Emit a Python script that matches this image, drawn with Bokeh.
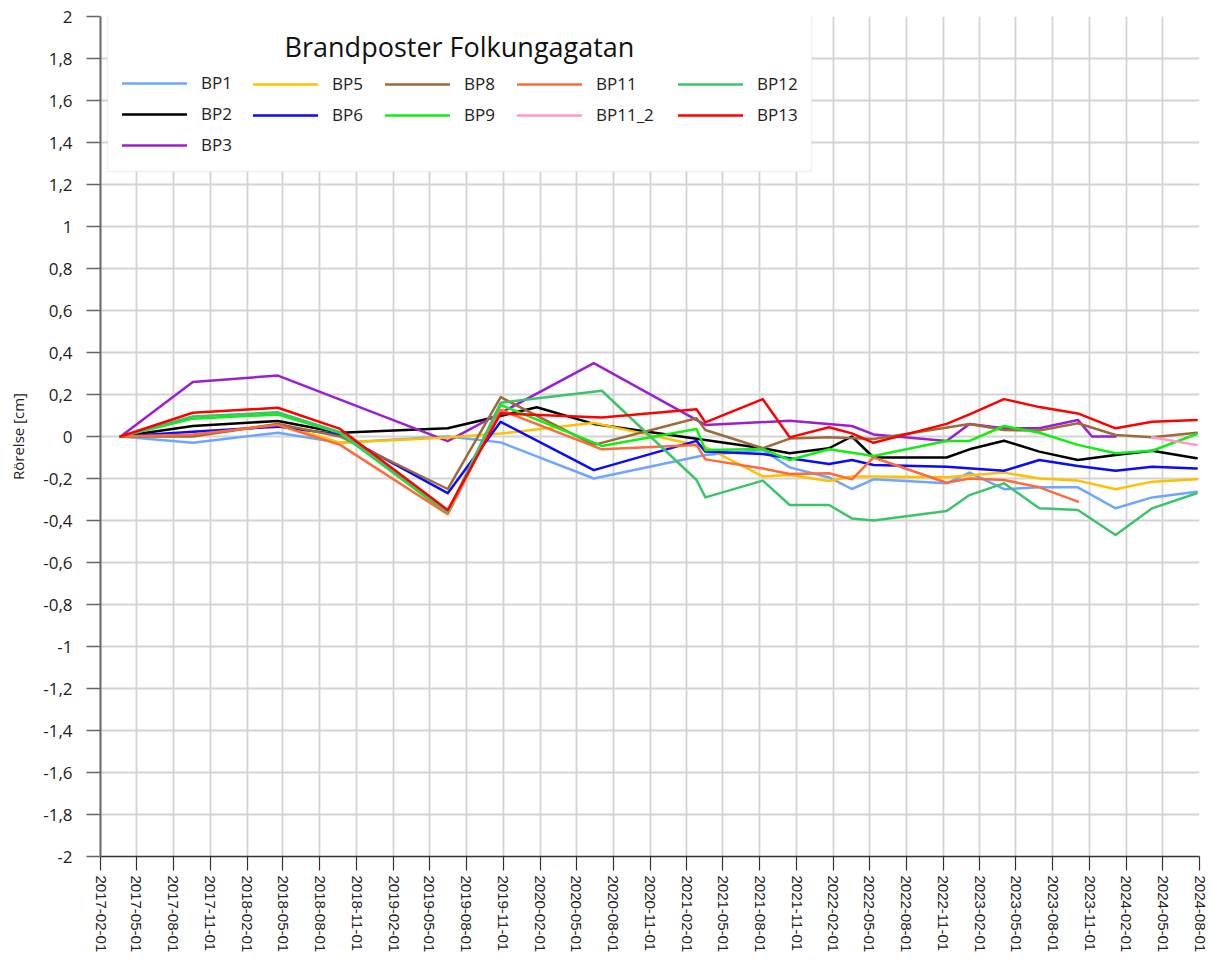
from datetime import datetime
from bokeh.plotting import figure
from bokeh.models import (ColumnDataSource, Range1d, FixedTicker, CustomJSTickFormatter,
                          DatetimeTickFormatter, Legend, LegendItem, BoxAnnotation, Label)
from bokeh.embed import file_html
from bokeh.resources import INLINE

N = None

# ---------------- data ----------------
DATES = ["2017-03-23", "2017-09-19", "2018-04-19", "2018-09-21", "2019-06-16",
         "2019-10-26", "2020-01-24", "2020-06-14", "2020-07-04", "2021-02-25",
         "2021-03-19", "2021-08-09", "2021-10-15", "2022-01-21", "2022-03-19",
         "2022-05-12", "2022-11-10", "2023-01-06", "2023-04-02", "2023-06-29",
         "2023-10-03", "2023-11-07", "2024-01-05", "2024-04-05", "2024-07-25"]

BP1 = [0, -0.03, 0.018, -0.03, 0.0, -0.028, N, -0.2, N, N, -0.088, -0.064, -0.147, -0.195,
       -0.25, -0.204, -0.223, -0.172, -0.251, -0.242, -0.242, N, -0.342, -0.29, -0.263]
BP2 = [0, 0.05, 0.074, 0.018, 0.039, N, 0.139, 0.06, N, N, N, -0.056, -0.08, -0.056,
       0.0, -0.1, -0.1, -0.061, -0.02, -0.072, -0.112, N, -0.088, -0.068, -0.104]
BP3 = [0, 0.26, 0.29, N, -0.022, N, N, 0.349, N, N, 0.055, N, 0.075, N,
       0.05, 0.01, -0.021, 0.06, 0.039, 0.039, 0.079, 0.0, 0.0, N, N]
BP5 = [0, 0.005, 0.06, -0.03, -0.005, 0.014, N, 0.065, N, N, -0.05, -0.19, -0.183, -0.212,
       -0.19, -0.19, -0.194, N, -0.172, -0.2, -0.21, N, -0.251, -0.215, -0.203]
BP6 = [0, 0.023, 0.047, 0.01, -0.27, 0.07, N, -0.16, N, -0.021, -0.072, -0.083, -0.104, -0.131,
       -0.112, -0.136, -0.144, N, -0.163, -0.112, -0.14, N, -0.163, -0.144, -0.152]
BP8 = [0, 0.0, 0.06, 0.0, -0.25, 0.187, N, -0.04, N, 0.087, 0.031, -0.056, -0.01, -0.004,
       N, -0.012, N, 0.06, 0.031, 0.028, 0.063, N, 0.007, -0.004, 0.018]
BP9 = [0, 0.085, 0.105, 0.016, -0.366, 0.15, N, N, -0.045, 0.036, -0.064, -0.06, -0.112, -0.061,
       N, -0.093, -0.021, -0.021, 0.05, 0.018, -0.04, N, -0.08, -0.068, 0.012]
BP11 = [0, 0.01, 0.055, -0.04, -0.37, 0.126, N, N, -0.061, -0.04, -0.109, -0.152, -0.179, -0.175,
        -0.204, -0.1, -0.22, -0.2, -0.207, -0.242, -0.31, N, N, N, N]
BP11_2 = [N, N, N, N, N, N, N, N, N, N, N, N, N, N,
          N, N, N, N, N, N, N, N, N, -0.004, -0.04]
BP12 = [0, 0.095, 0.115, 0.02, -0.36, 0.161, N, N, 0.218, -0.207, -0.29, -0.21, -0.326, -0.326,
        -0.39, -0.4, -0.355, -0.279, -0.223, -0.342, -0.35, N, -0.469, -0.342, -0.27]
BP13 = [0, 0.113, 0.137, 0.036, -0.35, 0.11, N, N, 0.09, 0.13, 0.067, 0.178, -0.004, 0.044,
        0.015, -0.03, 0.06, 0.105, 0.178, 0.14, 0.11, N, 0.039, 0.07, 0.079]

SERIES = [("BP1", BP1, "#6ea6ff"), ("BP2", BP2, "#000000"), ("BP3", BP3, "#9b1fd1"),
          ("BP5", BP5, "#ffc000"), ("BP6", BP6, "#0a0aff"), ("BP8", BP8, "#9e6a3a"),
          ("BP9", BP9, "#11ee11"), ("BP11", BP11, "#ff6a3d"), ("BP11_2", BP11_2, "#ff99cc"),
          ("BP12", BP12, "#3cc46a"), ("BP13", BP13, "#ff0000")]

LEGEND_COLUMNS = [["BP1", "BP2", "BP3"], ["BP5", "BP6"], ["BP8", "BP9"],
                  ["BP11", "BP11_2"], ["BP12", "BP13"]]

X_TICKS = ["2017-02-01", "2017-05-01", "2017-08-01", "2017-11-01", "2018-02-01", "2018-05-01",
           "2018-08-01", "2018-11-01", "2019-02-01", "2019-05-01", "2019-08-01", "2019-11-01",
           "2020-02-01", "2020-05-01", "2020-08-01", "2020-11-01", "2021-02-01", "2021-05-01",
           "2021-08-01", "2021-11-01", "2022-02-01", "2022-05-01", "2022-08-01", "2022-11-01",
           "2023-02-01", "2023-05-01", "2023-08-01", "2023-11-01", "2024-02-01", "2024-05-01",
           "2024-08-01"]
Y_TICKS = [-2, -1.8, -1.6, -1.4, -1.2, -1, -0.8, -0.6, -0.4, -0.2, 0,
           0.2, 0.4, 0.6, 0.8, 1, 1.2, 1.4, 1.6, 1.8, 2]

TITLE = "Brandposter Folkungagatan"
Y_LABEL = "Rörelse [cm]"

# ---------------- helpers ----------------
EPOCH = datetime(1970, 1, 1)


def dt(s):
    return datetime.strptime(s, "%Y-%m-%d")


def ms(s):
    return (dt(s) - EPOCH).total_seconds() * 1000.0


# ---------------- figure ----------------
p = figure(width=1207, height=955, x_axis_type="datetime",
           x_range=Range1d(dt(X_TICKS[0]), dt(X_TICKS[-1])),
           y_range=Range1d(-2, 2),
           output_backend="svg", toolbar_location=None,
           min_border_left=100, min_border_right=8, min_border_top=16, min_border_bottom=98)
p.outline_line_color = None
p.background_fill_color = "white"
p.border_fill_color = "white"

# x axis
p.xaxis.ticker = FixedTicker(ticks=[ms(s) for s in X_TICKS])
fmt = "%Y-%m-%d"
p.xaxis.formatter = DatetimeTickFormatter(microseconds=fmt, milliseconds=fmt, seconds=fmt,
                                          minsec=fmt, minutes=fmt, hourmin=fmt, hours=fmt,
                                          days=fmt, months=fmt, years=fmt)
p.xaxis.major_label_orientation = "vertical"
p.xaxis.major_label_text_font = "Liberation Sans"
p.xaxis.major_label_text_font_size = "15px"
p.xaxis.major_label_text_color = "#222222"
p.xaxis.major_label_standoff = 5
p.xaxis.major_tick_out = 14
p.xaxis.major_tick_in = 0
p.xaxis.minor_tick_line_color = None
p.xaxis.axis_line_color = "#333333"
p.xaxis.axis_line_width = 1.5
p.xaxis.major_tick_line_color = "#333333"
p.xaxis.major_tick_line_width = 1.2

# y axis
p.yaxis.ticker = FixedTicker(ticks=Y_TICKS)
p.yaxis.formatter = CustomJSTickFormatter(code="""
    let v = Math.round(tick * 10) / 10;
    if (Object.is(v, -0)) { v = 0; }
    return v.toString().replace('.', ',');
""")
p.yaxis.major_label_text_font = "Open Sans"
p.yaxis.major_label_text_font_size = "17px"
p.yaxis.major_label_text_color = "#222222"
p.yaxis.major_label_standoff = 14
p.yaxis.major_tick_out = 14
p.yaxis.major_tick_in = 0
p.yaxis.minor_tick_line_color = None
p.yaxis.axis_line_color = "#666666"
p.yaxis.axis_line_width = 2
p.yaxis.major_tick_line_color = "#666666"
p.yaxis.major_tick_line_width = 1.5
p.yaxis.axis_label = Y_LABEL
p.yaxis.axis_label_text_font = "Open Sans"
p.yaxis.axis_label_text_font_style = "normal"
p.yaxis.axis_label_text_font_size = "15px"
p.yaxis.axis_label_text_color = "#222222"
p.yaxis.axis_label_standoff = 12

# grids
for g in (p.xgrid, p.ygrid):
    g.grid_line_color = "#d3d3d3"
    g.grid_line_width = 1.8

# lines
renderers = {}
for name, vals, color in SERIES:
    xs = [dt(d) for d, v in zip(DATES, vals) if v is not None]
    ys = [v for v in vals if v is not None]
    src = ColumnDataSource(dict(x=xs, y=ys))
    r = p.line("x", "y", source=src, line_color=color, line_width=2.5,
               line_join="round", line_cap="round")
    renderers[name] = r

# legend box and title
box = BoxAnnotation(left=7, right=711, top=843, bottom=685,
                    left_units="screen", right_units="screen",
                    top_units="screen", bottom_units="screen",
                    fill_color="white", fill_alpha=1.0,
                    line_color="#d0d0d0", line_width=1.5)
p.add_layout(box)

title = Label(x=359, y=810, x_units="screen", y_units="screen", text=TITLE,
              text_align="center", text_baseline="middle",
              text_font="Open Sans", text_font_size="27px", text_color="#111111")
p.add_layout(title)

col_x = [22, 153, 285, 417, 578]
row_top = 782
gh = 22
sp = 8
for cx, names in zip(col_x, LEGEND_COLUMNS):
    n = len(names)
    h = n * gh + (n - 1) * sp
    items = [LegendItem(label=nm, renderers=[renderers[nm]]) for nm in names]
    leg = Legend(items=items, location=(cx, row_top - h), orientation="vertical",
                 border_line_color=None, background_fill_alpha=0.0,
                 padding=0, margin=0, spacing=sp,
                 glyph_width=65, glyph_height=gh, label_height=gh,
                 label_standoff=14, label_text_font="Open Sans",
                 label_text_font_size="17px", label_text_color="#222222",
                 label_text_baseline="middle")
    p.add_layout(leg)

open("out.html", "w").write(file_html(p, INLINE))
